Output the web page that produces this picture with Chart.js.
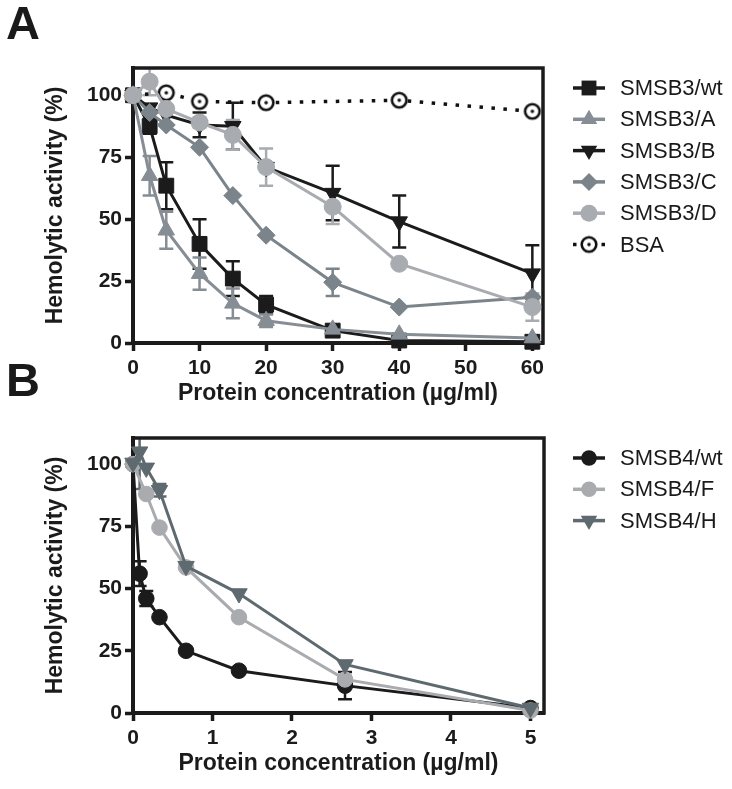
<!DOCTYPE html>
<html>
<head>
<meta charset="utf-8">
<script src="https://cdn.jsdelivr.net/npm/chart.js@4.4.1/dist/chart.umd.min.js"></script>
<style>
  body { margin: 0; background: #fff; width: 732px; height: 789px; position: relative; overflow: hidden;
         font-family: "Liberation Sans", Arial, sans-serif; }
  .panel { position: absolute; left: 0; width: 732px; height: 420px; }
  .letter { position: absolute; left: 6px; font-weight: bold; font-size: 47px; color: #1a1a1a; line-height: 1; }
</style>
</head>
<body>
<div class="panel" style="top:0"><canvas id="chartA" width="732" height="420"></canvas></div>
<div class="panel" style="top:370px"><canvas id="chartB" width="732" height="420"></canvas></div>
<div class="letter" style="top:-1px">A</div>
<div class="letter" style="top:356px">B</div>
<script>
// panel A - concentrations (µg/ml)
const concA = [0, 2.5, 5, 10, 15, 20, 30, 40, 60];
const concBSA = [0, 5, 10, 20, 40, 60];
const smsb3wt = [100, 87.5, 63.5, 40, 26, 15.5, 5, 1, 0.5];
const smsb3wtErr = [0, 3, 9.5, 10, 7, 3.5, 1, 0, 0];
const smsb3A = [100, 67.5, 45.5, 28, 16, 9, 5.5, 3.5, 2];
const smsb3AErr = [0, 8, 7.5, 6.5, 6, 2.5, 0, 0, 0];
const smsb3B = [100, 95, 92, 88, 87.5, 71, 60.5, 49, 28];
const smsb3BErr = [0, 0, 0, 5, 9.5, 0, 11, 10.5, 11.5];
const smsb3C = [100, 93, 88, 79, 59.5, 43.5, 24.5, 14.5, 18.5];
const smsb3CErr = [0, 0, 0, 0, 0, 0, 5.5, 0, 0];
const smsb3D = [100, 105.5, 94.5, 89, 84, 71, 55, 32, 14.5];
const smsb3DErr = [0, 5.5, 0, 2, 6, 7.5, 7, 0, 5.5];
const bsa = [100, 101, 97.5, 97, 98, 93.5];
const bsaErr = [0, 0, 0, 0, 0, 0];

// panel B
const concB = [0, 0.083, 0.167, 0.333, 0.667, 1.333, 2.667, 5];
const smsb4wt = [100, 56, 46, 38.5, 25, 17, 11, 2];
const smsb4wtErr = [0, 5, 3, 0, 0, 0, 5.5, 0];
const smsb4F = [100, null, 88, 74.5, 58.5, 38.5, 13.5, 1];
const smsb4FErr = [0, 0, 0, 0, 0, 0, 1.5, 0];
const smsb4H = [100.5, 105, 98.5, 89.5, 59, 48, 19.5, 2];
const smsb4HErr = [0, 15, 0, 2.5, 0, 0, 0, 0];

const yTicks = [0, 25, 50, 75, 100];
const FONT = '"Liberation Sans", Arial, sans-serif';
const INK = '#1b1b1b';

// hollow circle with a dot for BSA
function bsaMarker() {
    const c = document.createElement('canvas');
    c.width = 20; c.height = 20;
    const g = c.getContext('2d');
    g.fillStyle = '#fff'; g.strokeStyle = '#111'; g.lineWidth = 2.6;
    g.beginPath(); g.arc(10, 10, 7.3, 0, Math.PI * 2); g.fill(); g.stroke();
    g.fillStyle = '#111';
    g.beginPath(); g.arc(10, 10, 1.8, 0, Math.PI * 2); g.fill();
    return c;
}
const bsaImg = bsaMarker();

function makeDataset(s) {
    return {
        label: s.label,
        data: s.x.map((v, i) => ({ x: v, y: s.y[i] })),
        errs: s.err,
        kind: s.kind,
        markerR: s.r,
        dashed: !!s.dashed,
        borderColor: s.kind === 'bsa' ? '#111' : s.color,
        backgroundColor: s.color,
        borderWidth: s.dashed ? 3.5 : 3,
        borderDash: s.dashed ? [3.5, 8.5] : [],
        pointStyle: s.kind === 'bsa' ? bsaImg : (s.kind === 'triangleDown' ? 'triangle' : s.kind),
        pointRotation: s.kind === 'triangleDown' ? 180 : 0,
        pointRadius: s.r,
        pointHoverRadius: s.r,
        pointBackgroundColor: s.color,
        pointBorderColor: s.color,
        pointBorderWidth: 1,
        tension: 0,
        spanGaps: true,
        clip: false,
        order: s.order
    };
}

function drawMarker(ctx, kind, x, y, r, color) {
    ctx.save();
    ctx.fillStyle = color;
    ctx.beginPath();
    if (kind === 'rect') {
        const h = r * Math.SQRT1_2;
        ctx.rect(x - h, y - h, 2 * h, 2 * h);
    } else if (kind === 'triangle' || kind === 'triangleDown') {
        const sgn = kind === 'triangle' ? 1 : -1;
        ctx.moveTo(x, y - sgn * r);
        ctx.lineTo(x + r * 0.866, y + sgn * r * 0.5);
        ctx.lineTo(x - r * 0.866, y + sgn * r * 0.5);
        ctx.closePath();
    } else if (kind === 'rectRot') {
        ctx.moveTo(x, y - r); ctx.lineTo(x + r, y); ctx.lineTo(x, y + r); ctx.lineTo(x - r, y);
        ctx.closePath();
    } else if (kind === 'circle') {
        ctx.arc(x, y, r, 0, Math.PI * 2);
    }
    ctx.fill();
    if (kind === 'bsa') ctx.drawImage(bsaImg, x - 10, y - 10);
    ctx.restore();
}

const errorBars = {
    id: 'errorBars',
    beforeDatasetsDraw(chart) {
        const { ctx, chartArea: a, scales: { x, y } } = chart;
        ctx.save();
        ctx.beginPath();
        ctx.rect(a.left, a.top, a.right - a.left, a.bottom - a.top);
        ctx.clip();
        chart.data.datasets.forEach(ds => {
            ctx.strokeStyle = ds.kind === 'bsa' ? '#111' : ds.backgroundColor;
            ctx.lineWidth = 2.5;
            ds.data.forEach((p, i) => {
                const e = ds.errs[i];
                if (!e || p.y === null) return;
                const px = x.getPixelForValue(p.x);
                const top = y.getPixelForValue(p.y + e);
                const bot = y.getPixelForValue(p.y - e);
                ctx.beginPath();
                ctx.moveTo(px, top); ctx.lineTo(px, bot);
                ctx.moveTo(px - 7, top); ctx.lineTo(px + 7, top);
                ctx.moveTo(px - 7, bot); ctx.lineTo(px + 7, bot);
                ctx.stroke();
            });
        });
        ctx.restore();
        // frame round the plot
        ctx.save();
        ctx.strokeStyle = INK;
        ctx.lineWidth = 3.5;
        ctx.strokeRect(a.left, a.top, a.right - a.left, a.bottom - a.top);
        ctx.restore();
    }
};

const sideLegend = {
    id: 'sideLegend',
    afterDraw(chart) {
        const ctx = chart.ctx;
        ctx.save();
        ctx.font = '22px ' + FONT;
        ctx.textBaseline = 'middle';
        chart.data.datasets.forEach((ds, i) => {
            const yy = 88 + i * 31.3;
            ctx.strokeStyle = ds.borderColor;
            ctx.lineWidth = 3.5;
            ctx.setLineDash(ds.dashed ? [3.5, 6] : []);
            ctx.beginPath(); ctx.moveTo(573, yy); ctx.lineTo(605, yy); ctx.stroke();
            ctx.setLineDash([]);
            drawMarker(ctx, ds.kind, 589, yy, ds.markerR, ds.backgroundColor);
            ctx.fillStyle = '#1a1a1a';
            ctx.fillText(ds.label, 620, yy + 1);
        });
        ctx.restore();
    }
};

function makeChart(id, series, xMax, xStep, yMax, padRight) {
    new Chart(document.getElementById(id), {
        type: 'line',
        data: { datasets: series.map(makeDataset) },
        options: {
            responsive: false,
            animation: false,
            events: [],
            layout: { padding: { left: 0, top: 68, right: padRight, bottom: 0 } },
            plugins: { legend: { display: false }, tooltip: { enabled: false } },
            scales: {
                x: {
                    type: 'linear',
                    min: 0, max: xMax,
                    afterFit: s => { s.height = 77; },
                    border: { display: true, width: 4, color: INK },
                    grid: { drawOnChartArea: false, drawTicks: true, tickLength: 8, tickWidth: 3.5, tickColor: INK },
                    ticks: { stepSize: xStep, includeBounds: false, padding: 5, color: INK,
                             font: { family: FONT, size: 21, weight: 'bold' } },
                    title: { display: true, text: 'Protein concentration (µg/ml)', color: INK,
                             font: { family: FONT, size: 23, weight: 'bold' }, padding: { top: 0, bottom: 13 } }
                },
                y: {
                    min: 0, max: yMax,
                    afterFit: s => { s.width = 133; },
                    afterBuildTicks: s => { s.ticks = yTicks.map(v => ({ value: v })); },
                    border: { display: true, width: 4, color: INK },
                    grid: { drawOnChartArea: false, drawTicks: true, tickLength: 8, tickWidth: 3.5, tickColor: INK },
                    ticks: { padding: 3, color: INK, font: { family: FONT, size: 21, weight: 'bold' } },
                    title: { display: true, text: 'Hemolytic activity (%)', color: INK,
                             font: { family: FONT, size: 23, weight: 'bold' }, padding: { top: 42, bottom: 0 } }
                }
            }
        },
        plugins: [errorBars, sideLegend]
    });
}

makeChart('chartA', [
    { label: 'SMSB3/wt', x: concA, y: smsb3wt, err: smsb3wtErr, color: '#1b1b1b', kind: 'rect', r: 10.5, order: 5 },
    { label: 'SMSB3/A', x: concA, y: smsb3A, err: smsb3AErr, color: '#868d94', kind: 'triangle', r: 9.5, order: 4 },
    { label: 'SMSB3/B', x: concA, y: smsb3B, err: smsb3BErr, color: '#1b1b1b', kind: 'triangleDown', r: 9.5, order: 3 },
    { label: 'SMSB3/C', x: concA, y: smsb3C, err: smsb3CErr, color: '#7b848a', kind: 'rectRot', r: 9, order: 2 },
    { label: 'SMSB3/D', x: concA, y: smsb3D, err: smsb3DErr, color: '#a8abb0', kind: 'circle', r: 8.5, order: 1 },
    { label: 'BSA', x: concBSA, y: bsa, err: bsaErr, color: '#ffffff', kind: 'bsa', r: 8, order: 6, dashed: true }
], 61.6, 10, 111, 189);

makeChart('chartB', [
    { label: 'SMSB4/wt', x: concB, y: smsb4wt, err: smsb4wtErr, color: '#1b1b1b', kind: 'circle', r: 7.8, order: 3 },
    { label: 'SMSB4/F', x: concB, y: smsb4F, err: smsb4FErr, color: '#a9abae', kind: 'circle', r: 7.8, order: 2 },
    { label: 'SMSB4/H', x: concB, y: smsb4H, err: smsb4HErr, color: '#5e6a6f', kind: 'triangleDown', r: 9.5, order: 1 }
], 5.17, 1, 110.5, 188);
</script>
</body>
</html>
